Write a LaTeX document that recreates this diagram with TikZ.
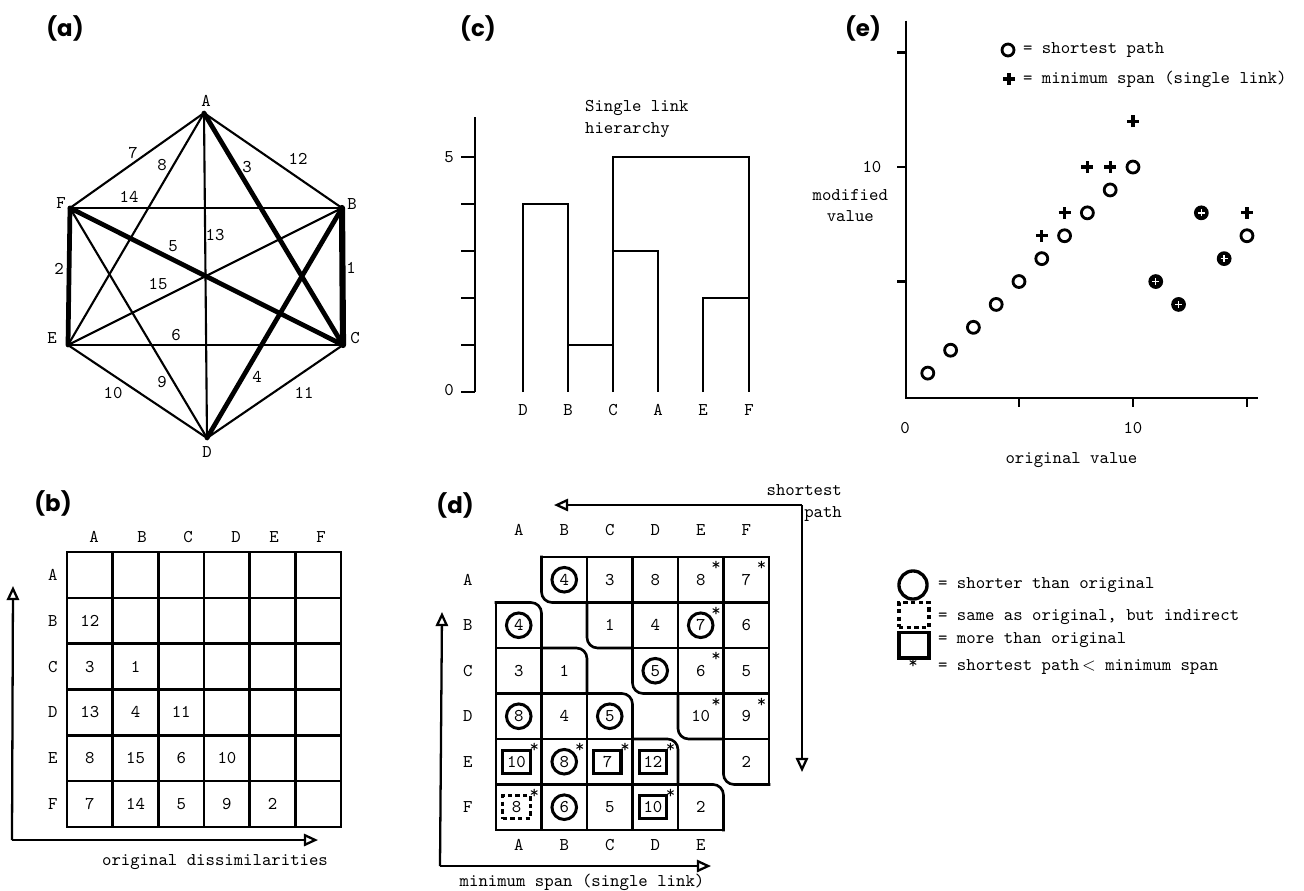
\documentclass[tikz,border=0pt]{standalone}
\usepackage{fontspec}
\newfontfamily\panelfont{Poppins}
\usetikzlibrary{arrows.meta, positioning}

\tikzset{
  lbl/.style={font=\ttfamily\fontsize{10.2}{12}\selectfont, inner sep=1pt},
  panel/.style={font=\panelfont\bfseries\fontsize{13}{16}\selectfont, inner sep=0pt},
  edge/.style={line width=1.2pt, line cap=round},
  mst/.style={line width=2.7pt, line cap=round},
  cell/.style={line width=1.5pt, line cap=rect},
  stair/.style={cell, rounded corners=6pt},
  dendro/.style={line width=1.4pt},
  axis/.style={line width=1.3pt, -{Triangle[open, length=8pt, width=7pt]}},
  val/.style={lbl},
  ring/.style={lbl, draw, circle, line width=1.7pt, minimum size=14pt, inner sep=0pt},
  boxed/.style={lbl, draw, rectangle, line width=1.8pt, minimum width=15.5pt, minimum height=13pt, inner sep=0pt},
  dashbox/.style={boxed, dashed, dash pattern=on 2.5pt off 1.8pt},
  starmark/.style={lbl, inner sep=0pt},
  spt/.style={line width=1.6pt},
  msp/.style={line width=1.8pt}
}

\begin{document}
\begin{tikzpicture}[x=0.02cm, y=-0.02cm]
\useasboundingbox (0,0) rectangle (1304,890);

% (a) dissimilarity graph
\node[panel] (pa) at (65,28) {(a)};
\coordinate (A) at (204,113);
\coordinate (B) at (342,208);
\coordinate (C) at (343,345);
\coordinate (D) at (207,438);
\coordinate (E) at (68,345);
\coordinate (F) at (70,208);
\foreach \u/\v in {A/B,A/D,A/E,A/F,B/E,B/F,C/D,C/E,D/E,D/F}
  \draw[edge] (\u) -- (\v);
\foreach \u/\v in {A/C,B/D,C/F,E/F}
  \draw[mst] (\u) -- (\v);
\draw[mst, line width=3.5pt] (B) -- (C);
\foreach \n/\x/\y in {A/206/101,B/352/204,C/355/338,D/207/452,E/52/338,F/61/203}
  \node[lbl] (l\n) at (\x,\y) {\n};
\foreach \w/\x/\y in {7/133/153,8/162/165,3/247/167,12/298/159,14/129/197,13/215/235,
    5/173/246,2/59/269,1/351/268,15/158/284,6/176/335,4/257/377,9/162/382,10/113/393,11/304/393}
  \node[lbl] (w\w) at (\x,\y) {\w};

% (b) original matrix
\node[panel] (pb) at (53,503) {(b)};
\begin{scope}[shift={(67,552)}, x=0.914cm, y=-0.9166cm]
  \foreach \k in {0,...,6} {
    \draw[cell] (\k,0) -- (\k,6);
    \draw[cell] (0,\k) -- (6,\k);
  }
  \foreach \n [count=\i from 0] in {A,B,C,D,E,F}
    \node[lbl] (br\n) at (-0.31,{\i+0.5}) {\n};
  \foreach \r/\c/\v in {1/0/12,2/0/3,2/1/1,3/0/13,3/1/4,3/2/11,4/0/8,4/1/15,4/2/6,4/3/10,
      5/0/7,5/1/14,5/2/5,5/3/9,5/4/2}
    \node[val] (b\r\c) at ({\c+0.5},{\r+0.5}) {\v};
\end{scope}
\foreach \n/\x in {A/94,B/142,C/188,D/236,E/274,F/321}
  \node[lbl] (bc\n) at (\x,537) {\n};
\coordinate (bo) at (12,840);
\coordinate (btop) at (13,586);
\coordinate (bright) at (318,840);
\draw[axis] (bo) -- (btop);
\draw[axis] (bo) -- (bright);
\node[lbl] (borig) at (215,862) {original dissimilarities};

% (c) single link hierarchy
\node[panel] (pc) at (478,28) {(c)};
\draw[line width=1.5pt] (475,117) -- (475,392);
\foreach \t in {0,...,5}
  \draw[line width=1.5pt] (461,{392-47*\t}) -- (475,{392-47*\t});
\node[lbl] (cfive) at (449,157) {5};
\node[lbl] (czero) at (449,390) {0};
\foreach \n/\x in {D/523,B/568,C/613,A/658,E/703,F/749} {
  \coordinate (c\n) at (\x,392);
  \node[lbl] (lc\n) at (\x,410) {\n};
}
\draw[dendro] (cD) |- (568,204) -- (cB);
\draw[dendro] (568,345) -- (613,345);
\draw[dendro] (cC) |- (749,157) -- (cF);
\draw[dendro] (613,251) -| (cA);
\draw[dendro] (cE) |- (749,298);
\node[lbl, anchor=west, align=left] (ctitle) at (583,119) {Single link\\hierarchy};

% (d) shortest path / minimum span
\node[panel] (pd) at (455,505) {(d)};
\begin{scope}[shift={(496,557)}, x=0.91cm, y=-0.91cm]
  \foreach \k in {1,...,5} {
    \draw[stair] (\k,{\k-1}) -- (\k,\k) -- ({\k+1},\k);
    \draw[stair] ({\k-1},\k) -- (\k,\k) -- (\k,{\k+1});
  }
  \draw[cell] (1,0) -- (6,0) -- (6,5);
  \draw[cell] (0,1) -- (0,6) -- (5,6);
  \foreach \k in {2,...,5} {
    \draw[cell] (\k,0) -- (\k,{\k-1});
    \draw[cell] (0,\k) -- ({\k-1},\k);
  }
  \foreach \k in {1,...,4} {
    \draw[cell] ({\k+1},\k) -- (6,\k);
    \draw[cell] (\k,{\k+1}) -- (\k,6);
  }
  \foreach \n [count=\i from 0] in {A,B,C,D,E,F} {
    \node[lbl] (dc\n) at ({\i+0.5},-0.6) {\n};
    \node[lbl] (dr\n) at (-0.62,{\i+0.5}) {\n};
  }
  \foreach \n [count=\i from 0] in {A,B,C,D,E}
    \node[lbl] (db\n) at ({\i+0.5},6.33) {\n};
  % plain values
  \foreach \r/\c/\v in {0/2/3,0/3/8,0/4/8,0/5/7,1/2/1,1/3/4,1/5/6,2/4/6,2/5/5,3/4/10,3/5/9,4/5/2,
      2/0/3,2/1/1,3/1/4,5/2/5,5/4/2}
    \node[val] (d\r\c) at ({\c+0.5},{\r+0.5}) {\v};
  % shorter than original
  \foreach \r/\c/\v in {0/1/4,1/4/7,2/3/5,1/0/4,3/0/8,3/2/5,4/1/8,5/1/6}
    \node[ring] (d\r\c) at ({\c+0.5},{\r+0.5}) {\v};
  % more than original
  \foreach \r/\c/\v in {4/0/10,4/2/7,4/3/12,5/3/10}
    \node[boxed] (d\r\c) at ({\c+0.45},{\r+0.5}) {\v};
  \node[dashbox] (d50) at (0.45,5.5) {8};
  % shortest path < minimum span
  \foreach \r/\c in {0/4,0/5,1/4,2/4,3/4,3/5,4/0,4/1,4/2,4/3,5/0,5/3}
    \node[starmark] (s\r\c) at ({\c+0.84},{\r+0.2}) {*};
\end{scope}
\coordinate (dorig) at (440,866);
\coordinate (dtop) at (442,612);
\coordinate (dright) at (711,866);
\draw[axis] (dorig) -- (dtop);
\draw[axis] (dorig) -- (dright);
\node[lbl] (dms) at (582,882) {minimum span (single link)};
\coordinate (scorner) at (802,505);
\coordinate (sleft) at (554,505);
\coordinate (sdown) at (802,772);
\draw[axis] (scorner) -- (sleft);
\draw[axis] (scorner) -- (sdown);
\node[lbl, anchor=east, align=right] (dsp) at (844,503) {shortest\\path};

% legend for (d)
\node[ring, minimum size=16pt, line width=1.9pt] (kring) at (913,585) {};
\node[dashbox, minimum width=17pt, minimum height=14pt] (kdash) at (914,615) {};
\node[boxed, minimum width=17pt, minimum height=14.5pt, line width=2pt] (kbox) at (914,645) {};
\node[starmark] (kstar) at (913,664) {*};
\node[lbl, anchor=west] (tring) at (936,585) {= shorter than original};
\node[lbl, anchor=west] (tdash) at (936,617) {= same as original, but indirect};
\node[lbl, anchor=west] (tbox) at (936,640) {= more than original};
\node[lbl, anchor=west] (tstar) at (936,667) {= shortest path\,$<$ minimum span};

% (e) modified against original values
\node[panel] (pe) at (863,28) {(e)};
\begin{scope}[shift={(905,396)}, x=0.456cm, y=0.458cm]
  \draw[line width=1.3pt] (0.05,16.4) -- (0.05,-0.08) -- (15.5,-0.08);
  \foreach \t in {5,10,15} {
    \draw[line width=1.3pt] (-0.35,\t) -- (0.05,\t);
    \draw[line width=1.3pt] (\t,-0.08) -- (\t,-0.5);
  }
  \node[lbl] (ex0) at (0,-1.4) {0};
  \node[lbl] (ex10) at (10,-1.4) {10};
  \node[lbl] (ey10) at (-1.45,10) {10};
  \node[lbl, align=center] (eylab) at (-2.4,8.3) {modified\\value};
  \node[lbl] (exlab) at (7.3,-2.8) {original value};
  \foreach \x/\y in {1/1,2/2,3/3,4/4,5/5,6/6,7/7,8/8,9/9,10/10,15/7}
    \draw[spt] (\x,\y) circle (3.4pt);
  \foreach \x/\y in {11/5,12/4,13/8,14/6} {
    \fill (\x,\y) circle (4.2pt);
    \draw[white, line width=0.8pt] ([xshift=-2pt]\x,\y) -- ([xshift=2pt]\x,\y);
    \draw[white, line width=0.8pt] ([yshift=-2pt]\x,\y) -- ([yshift=2pt]\x,\y);
  }
  \foreach \x/\y in {6/7,7/8,8/10,9/10,10/12,15/8} {
    \draw[msp] ([xshift=-3.4pt]\x,\y) -- ([xshift=3.4pt]\x,\y);
    \draw[msp] ([yshift=-3.4pt]\x,\y) -- ([yshift=3.4pt]\x,\y);
  }
\end{scope}
\draw[spt] (1008,50) circle (3.4pt);
\draw[msp] (1003,79) -- (1015,79);
\draw[msp] (1009,73) -- (1009,85);
\node[lbl, anchor=west] (eleg1) at (1021,50) {= shortest path};
\node[lbl, anchor=west] (eleg2) at (1021,79) {= minimum span (single link)};
\end{tikzpicture}
\end{document}
